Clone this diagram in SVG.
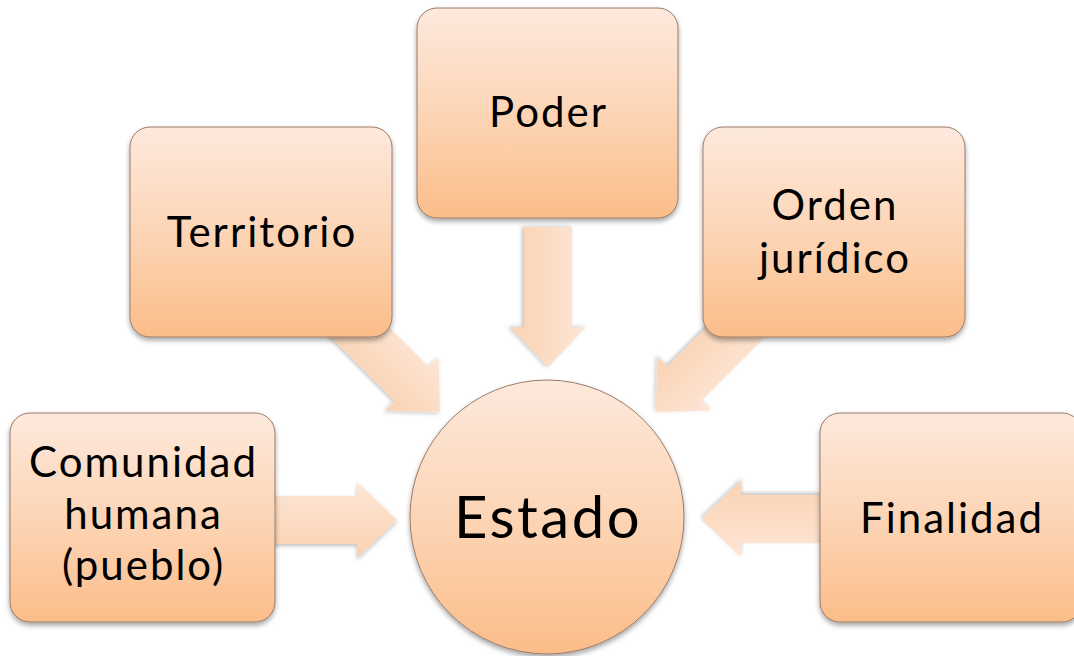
<svg xmlns="http://www.w3.org/2000/svg" width="1074" height="656" viewBox="0 0 1074 656">
<defs>
<linearGradient id="boxGrad" x1="0" y1="0" x2="0" y2="1">
<stop offset="0" stop-color="#FDE9DD"/>
<stop offset="0.55" stop-color="#FCD3B2"/>
<stop offset="1" stop-color="#FBBD89"/>
</linearGradient>
<linearGradient id="arrowGrad" x1="0" y1="0" x2="0" y2="1">
<stop offset="0" stop-color="#FDE6D6"/>
<stop offset="1" stop-color="#FAD2B2"/>
</linearGradient>
<filter id="shadow" x="-20%" y="-20%" width="140%" height="140%">
<feDropShadow dx="0" dy="3" stdDeviation="2.5" flood-color="#000" flood-opacity="0.35"/>
</filter>
<filter id="ashadow" x="-20%" y="-20%" width="140%" height="140%">
<feDropShadow dx="0" dy="2" stdDeviation="2" flood-color="#000" flood-opacity="0.25"/>
</filter>
<path id="arrow" d="M -140 -24 L -40 -24 L -40 -38 L 0 0 L -40 38 L -40 24 L -140 24 Z"/>
</defs>
<style>
.box { fill: url(#boxGrad); stroke: #9C7A66; stroke-width: 1; filter: url(#shadow); }
.arr { fill: url(#arrowGrad); filter: url(#ashadow); }
.lbl { font-family: Lato, "Open Sans", sans-serif; font-size: 42px; letter-spacing: 2px; fill: #000; text-anchor: middle; }
.big { font-size: 58px; letter-spacing: 2.5px; }
</style>
<rect width="1074" height="656" fill="#FFFFFF"/>
<g id="connectors">
<use href="#arrow" class="arr" transform="translate(397,520)"/>
<use href="#arrow" class="arr" transform="translate(701,519) rotate(180)"/>
<use href="#arrow" class="arr" transform="translate(548,367) rotate(90)"/>
<use href="#arrow" class="arr" transform="translate(440,412) rotate(45)"/>
<use href="#arrow" class="arr" transform="translate(656,412) rotate(135)"/>
</g>
<g id="comunidad">
<rect class="box" x="10" y="413" width="265" height="209" rx="20"/>
<text class="lbl" x="143.5" y="477">Comunidad</text>
<text class="lbl" x="143.5" y="529">humana</text>
<text class="lbl" x="143.5" y="580">(pueblo)</text>
</g>
<g id="territorio">
<rect class="box" x="130" y="127" width="262" height="210" rx="20"/>
<text class="lbl" x="262" y="247">Territorio</text>
</g>
<g id="poder">
<rect class="box" x="417" y="8" width="261" height="210" rx="20"/>
<text class="lbl" x="548.5" y="127">Poder</text>
</g>
<g id="orden">
<rect class="box" x="703" y="127" width="262" height="210" rx="20"/>
<text class="lbl" x="835" y="220">Orden</text>
<text class="lbl" x="835" y="273">jurídico</text>
</g>
<g id="finalidad">
<rect class="box" x="820" y="413" width="262" height="209" rx="20"/>
<text class="lbl" x="952" y="533">Finalidad</text>
</g>
<g id="estado">
<circle class="box" cx="547" cy="517" r="137"/>
<text class="lbl big" x="548" y="538">Estado</text>
</g>
</svg>
